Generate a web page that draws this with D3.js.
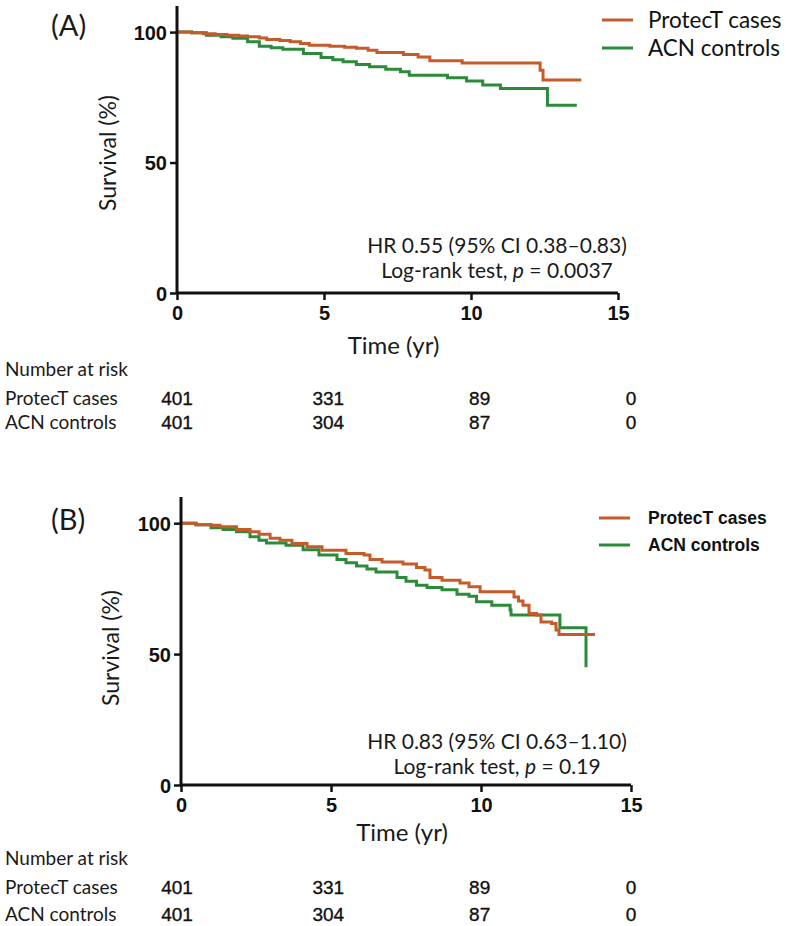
<!DOCTYPE html>
<html><head><meta charset="utf-8">
<script src="https://cdn.jsdelivr.net/npm/d3@7"></script>
<style>body{margin:0;background:#fff;} svg{display:block;}</style>
</head><body>
<svg id="chart" width="786" height="926"></svg>
<script>
// ---- data ----
const timeTicks = [0, 5, 10, 15];
const survTicks = [0, 50, 100];
const seriesNames = ["ProtecT cases", "ACN controls"];
const seriesColors = ["#c65b2a", "#2b8b3b"];
const riskTimes = [0, 5, 10, 15];
const riskCases = [401, 331, 89, 0];
const riskControls = [401, 304, 87, 0];

// Panel A
const aCasesT = [0, 0.5, 0.9, 1.3, 1.7, 2.1, 2.4, 2.8, 3.05, 3.5, 3.85, 4.2, 4.5, 5.2, 5.7, 6.1, 6.5, 6.8, 7.7, 8.2, 8.6, 9.7, 12.35, 12.45, 13.75];
const aCasesS = [100, 99.7, 99.4, 99.1, 98.8, 98.5, 98.2, 97.7, 97.2, 96.8, 96.3, 95.6, 95.0, 94.6, 94.2, 93.8, 93.0, 92.2, 91.4, 90.5, 89.0, 88.2, 85.4, 81.6, 81.6];
const aCtrlT = [0, 0.5, 1.0, 1.5, 1.9, 2.4, 2.8, 3.2, 3.6, 4.3, 4.9, 5.3, 5.65, 6.1, 6.55, 7.1, 7.6, 7.9, 9.2, 9.85, 10.4, 11.0, 12.6, 13.6];
const aCtrlS = [100, 99.7, 98.8, 98.2, 97.6, 96.3, 94.6, 94.0, 93.4, 91.8, 90.3, 89.4, 88.6, 87.6, 86.7, 85.8, 84.8, 83.5, 82.5, 81.3, 79.7, 78.4, 72.0, 72.0];
// Panel B
const bCasesT = [0, 0.5, 1.0, 1.3, 1.85, 2.3, 2.6, 2.97, 3.3, 3.7, 4.2, 4.7, 5.5, 6.1, 6.3, 6.7, 7.4, 7.85, 8.13, 8.3, 8.7, 9.3, 9.6, 9.97, 11.1, 11.25, 11.4, 11.6, 11.85, 12.0, 12.35, 12.5, 12.6, 13.8];
const bCasesS = [100, 99.4, 99.2, 98.6, 97.6, 96.7, 95.8, 94.2, 93.5, 92.2, 91.0, 89.7, 88.4, 87.8, 86.1, 85.2, 84.4, 83.1, 82.1, 79.3, 78.2, 77.2, 75.7, 73.8, 71.8, 70.3, 68.7, 65.5, 64.9, 62.3, 61.7, 59.2, 57.5, 57.5];
const bCtrlT = [0, 0.5, 1.0, 1.4, 1.85, 2.3, 2.6, 2.85, 3.5, 4.07, 4.6, 5.2, 5.5, 5.85, 6.2, 6.5, 7.2, 7.5, 7.85, 8.2, 8.7, 9.2, 9.6, 9.85, 10.36, 10.97, 11.0, 12.63, 13.5];
const bCtrlS = [100, 99.4, 98.3, 97.6, 96.7, 94.8, 93.5, 92.4, 91.6, 89.9, 87.8, 86.1, 84.9, 83.6, 82.5, 81.4, 79.3, 77.8, 76.3, 75.4, 74.6, 72.9, 72.1, 70.0, 68.7, 66.8, 64.9, 60.1, 45.0];

const svg = d3.select("#chart");
const SANS = "Lato, 'Open Sans', sans-serif";
const ARIAL = "'Liberation Sans', Arial, sans-serif";
const TXT = "#1a1a1a";

function zip(t, s) { return t.map((d, i) => ({t: d, s: s[i]})); }

function drawPanel(cfg) {
  const g = svg.append("g");
  const x = d3.scaleLinear().domain([0, 15]).range([cfg.x0, cfg.x1]);
  const y = d3.scaleLinear().domain([0, 110]).range([cfg.y0, cfg.yTop]);

  // curves
  const line = d3.line().x(d => x(d.t)).y(d => y(d.s)).curve(d3.curveStepAfter);
  [cfg.ctrl, cfg.cases].forEach((ser, k) => {
    g.append("path").datum(ser).attr("d", line).attr("fill", "none")
      .attr("stroke", k === 0 ? seriesColors[1] : seriesColors[0])
      .attr("stroke-width", 3).attr("stroke-linejoin", "miter");
  });

  // axes
  const yAxis = d3.axisLeft(y).tickValues(survTicks).tickSize(7).tickFormat(d3.format("d"));
  const gy = g.append("g").attr("transform", `translate(${cfg.x0},0)`).call(yAxis);
  const xAxis = d3.axisBottom(x).tickValues(timeTicks).tickSize(7).tickFormat(d3.format("d"));
  const gx = g.append("g").attr("transform", `translate(0,${cfg.y0})`).call(xAxis);
  [gx, gy].forEach(a => {
    a.select(".domain").attr("stroke", "#111").attr("stroke-width", 3);
    a.selectAll(".tick line").attr("stroke", "#111").attr("stroke-width", 2.5);
    a.selectAll(".tick text").attr("fill", "#111").style("font-family", ARIAL)
      .style("font-weight", "bold").style("font-size", "20px");
  });
  gy.select(".domain").attr("d", `M0,${cfg.y0}V${cfg.yTop}`);
  gx.select(".domain").attr("d", `M${cfg.x0},0H${cfg.x1}`);
  gy.selectAll(".tick text").attr("x", -10).attr("dy", "0.36em");
  gx.selectAll(".tick text").attr("y", 13).attr("dy", "0.71em");

  // axis titles
  g.append("text").attr("transform", `translate(${cfg.ylabX},${cfg.ylabY}) rotate(-90)`)
    .attr("text-anchor", "middle").style("font-family", SANS).style("font-size", "23px")
    .attr("fill", TXT).text("Survival (%)");
  g.append("text").attr("x", (cfg.x0 + cfg.x1) / 2 - 4).attr("y", cfg.timeY)
    .attr("text-anchor", "middle").style("font-family", SANS).style("font-size", "24px")
    .attr("fill", TXT).text("Time (yr)");

  // panel letter
  g.append("text").attr("x", 51).attr("y", cfg.letterY).style("font-family", SANS)
    .style("font-size", "29px").attr("fill", TXT).text(cfg.letter);

  // legend
  seriesNames.forEach((n, i) => {
    const ly = cfg.legY[i];
    g.append("line").attr("x1", cfg.legX1).attr("x2", cfg.legX1 + 31).attr("y1", ly).attr("y2", ly)
      .attr("stroke", seriesColors[i]).attr("stroke-width", 3);
    g.append("text").attr("x", 648).attr("y", ly).attr("dy", "0.35em")
      .style("font-family", cfg.legBold ? ARIAL : SANS)
      .style("font-weight", cfg.legBold ? "bold" : "normal")
      .style("font-size", cfg.legBold ? "17.5px" : "22.5px")
      .attr("fill", "#111").text(n);
  });

  // annotation
  const ann = g.append("text").attr("text-anchor", "middle").style("font-family", SANS)
    .style("font-size", "21px").attr("fill", TXT);
  ann.append("tspan").attr("x", 497).attr("y", cfg.annY).text(cfg.hr);
  const l2 = ann.append("tspan").attr("x", 497).attr("y", cfg.annY + 25);
  l2.append("tspan").text("Log-rank test, ");
  l2.append("tspan").style("font-style", "italic").text("p");
  l2.append("tspan").text(" = " + cfg.p);

  // number at risk
  const tb = g.append("g");
  tb.append("text").attr("x", 5).attr("y", cfg.tabY[0]).style("font-family", SANS)
    .style("font-size", "19px").attr("fill", TXT).text("Number at risk");
  const rows = [riskCases, riskControls];
  const tx = d3.scaleLinear().domain([0, 15]).range([177, 631]);
  rows.forEach((vals, r) => {
    tb.append("text").attr("x", 5).attr("y", cfg.tabY[r + 1]).style("font-family", SANS)
      .style("font-size", "19px").attr("fill", TXT).text(seriesNames[r]);
    tb.selectAll(null).data(vals).enter().append("text")
      .attr("x", (d, i) => tx(riskTimes[i])).attr("y", cfg.tabY[r + 1])
      .attr("text-anchor", "middle").style("font-family", ARIAL).style("font-size", "19px")
      .attr("fill", "#111").attr("stroke", "#111").attr("stroke-width", 0.35).text(d => d);
  });
}

drawPanel({
  letter: "(A)", letterY: 36,
  x0: 177, x1: 618, y0: 293, yTop: 6,
  cases: zip(aCasesT, aCasesS), ctrl: zip(aCtrlT, aCtrlS),
  ylabX: 116, ylabY: 153, timeY: 354,
  legX1: 602, legY: [20, 48], legBold: false,
  annY: 253, hr: "HR 0.55 (95% CI 0.38–0.83)", p: "0.0037",
  tabY: [376, 405, 429]
});
drawPanel({
  letter: "(B)", letterY: 530,
  x0: 181, x1: 631, y0: 785, yTop: 497,
  cases: zip(bCasesT, bCasesS), ctrl: zip(bCtrlT, bCtrlS),
  ylabX: 119, ylabY: 648, timeY: 841,
  legX1: 599, legY: [518, 545], legBold: true,
  annY: 749, hr: "HR 0.83 (95% CI 0.63–1.10)", p: "0.19",
  tabY: [865, 894, 921]
});
</script>
</body></html>
